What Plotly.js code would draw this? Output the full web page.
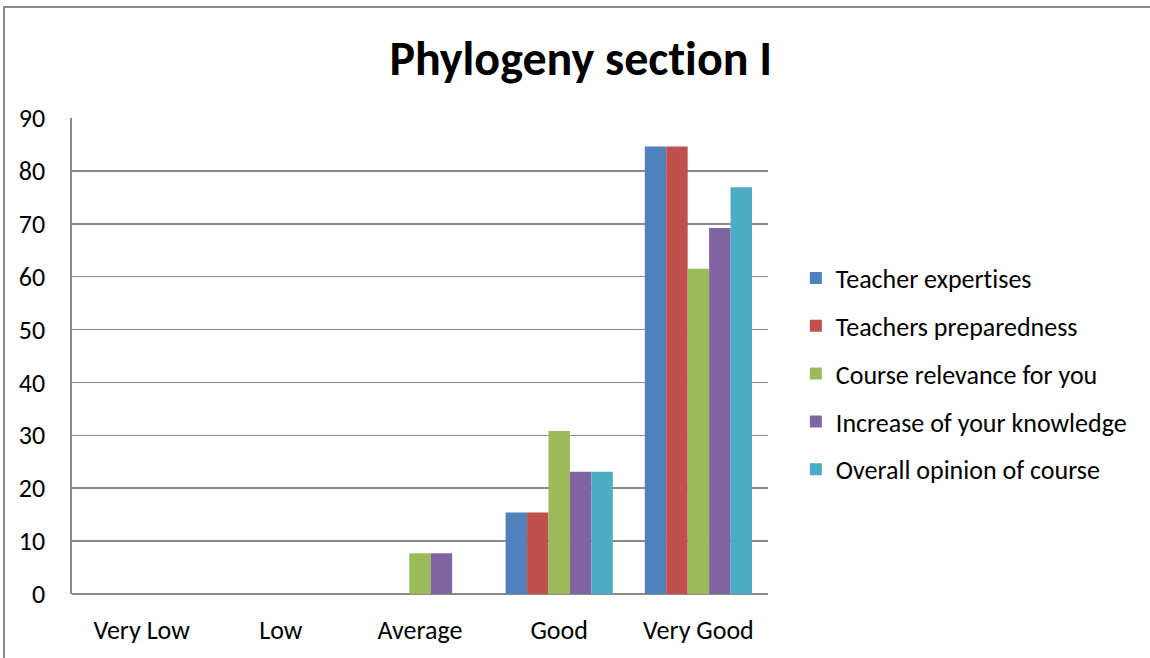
<!DOCTYPE html>
<html><head><meta charset="utf-8">
<script src="https://cdn.plot.ly/plotly-3.0.1.min.js"></script>
<style>
html,body{margin:0;padding:0;background:#fff;overflow:hidden;}
#wrap{position:relative;width:1150px;height:658px;}
#chart{position:absolute;left:0;top:0;width:1150px;height:658px;}
#chart text{font-variant-ligatures:none;font-feature-settings:"liga" 0, "clig" 0;text-rendering:optimizeSpeed;}
#frame{position:absolute;left:3px;top:6px;width:1170px;height:680px;border:2px solid #8a8a8a;box-sizing:border-box;pointer-events:none;}
</style></head>
<body><div id="wrap"><div id="chart"></div><div id="frame"></div></div>
<script>
const categories = ["Very Low", "Low", "Average", "Good", "Very Good"];
const seriesNames = ["Teacher expertises", "Teachers preparedness", "Course relevance for you", "Increase of your knowledge", "Overall opinion of course"];
const teacherExpertises = [0, 0, 0, 15.4, 84.6];
const teachersPreparedness = [0, 0, 0, 15.4, 84.6];
const courseRelevance = [0, 0, 7.7, 30.8, 61.5];
const increaseKnowledge = [0, 0, 7.7, 23.1, 69.2];
const overallOpinion = [0, 0, 0, 23.1, 76.9];
const yTicks = [0, 10, 20, 30, 40, 50, 60, 70, 80, 90];

const seriesValues = [teacherExpertises, teachersPreparedness, courseRelevance, increaseKnowledge, overallOpinion];
const colors = ["#4F81BD", "#C0504D", "#9BBB59", "#8064A2", "#4BACC6"];
const font = "Calibri, Carlito, 'Open Sans', 'Noto Sans', sans-serif";

const traces = seriesValues.map((vals, i) => ({
  type: "bar",
  name: seriesNames[i],
  x: categories,
  y: vals,
  legendgroup: "g" + i,
  marker: {color: colors[i], line: {width: 0}},
  hoverinfo: "x+y+name"
}));

const layout = {
  width: 1150, height: 658,
  margin: {l: 72, r: 382, t: 118, b: 64},
  paper_bgcolor: "#fff", plot_bgcolor: "#fff",
  font: {family: font, color: "#000", size: 26},
  title: {text: "<b>Phylogeny section I</b>", font: {family: font, size: 48, color: "#000"},
          x: 0.505, xref: "container", xanchor: "center", y: 0.912, yref: "container", yanchor: "middle"},
  barmode: "group",
  bargap: 0.23, bargroupgap: 0,
  xaxis: {type: "category", showgrid: false, showline: false, zeroline: false, ticks: "",
          tickfont: {size: 26}, ticklabelstandoff: 18, fixedrange: true},
  yaxis: {range: [0, 90], tickvals: yTicks, ticktext: yTicks.map(String), showgrid: true,
          gridcolor: "#8a8a8a", gridwidth: 1.6, showline: true, linecolor: "#8a8a8a", linewidth: 1.6,
          zeroline: true, zerolinecolor: "#8a8a8a", zerolinewidth: 1.6, ticks: "",
          tickfont: {size: 26}, ticklabelstandoff: 20, fixedrange: true},
  legend: {x: 1.04, xref: "paper", xanchor: "left", y: 0.462, yanchor: "middle",
           font: {size: 26, family: font}, traceorder: "grouped", tracegroupgap: 11,
           itemwidth: 30, bgcolor: "rgba(0,0,0,0)"},
  showlegend: true
};

Plotly.newPlot("chart", traces, layout, {displayModeBar: false, staticPlot: true}).then(gd => {
  gd.querySelectorAll("text").forEach(t => {
    t.style.fontVariantLigatures = "none";
    t.style.fontFeatureSettings = '"liga" 0, "clig" 0';
    t.setAttribute("text-rendering", "optimizeSpeed");
  });
});
</script></body></html>
